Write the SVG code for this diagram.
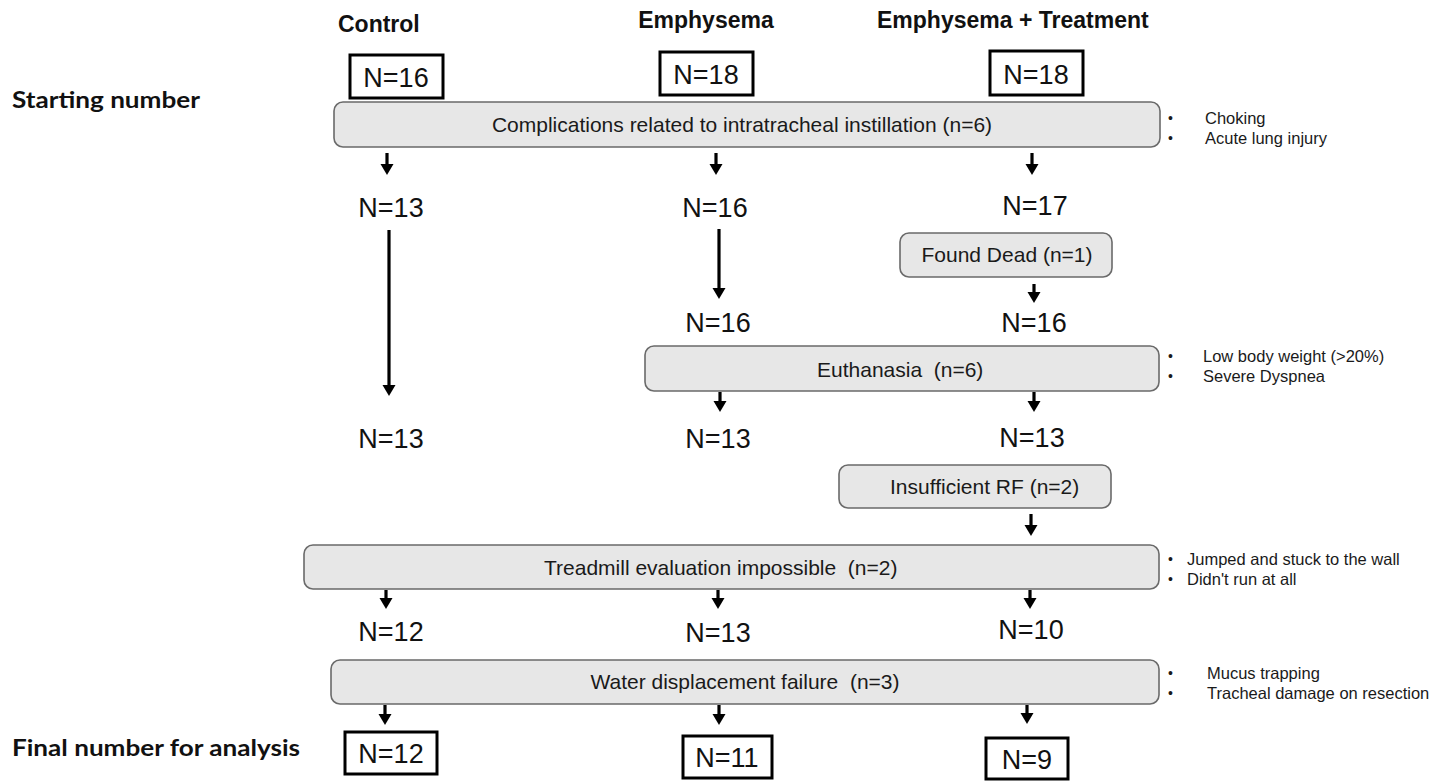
<svg xmlns="http://www.w3.org/2000/svg" width="1440" height="783" viewBox="0 0 1440 783">
<style>
.hdr{font-family:"Liberation Sans",Arial,sans-serif;font-weight:bold;font-size:23px;fill:#111}
.side{font-family:Lato,"Open Sans",sans-serif;font-weight:bold;font-size:23px;fill:#111}
.n{font-family:"Liberation Sans",Arial,sans-serif;font-size:27px;fill:#111;text-anchor:middle}
.lbl{font-family:"Liberation Sans",Arial,sans-serif;font-size:21px;fill:#1a1a1a}
.note{font-family:"Liberation Sans",Arial,sans-serif;font-size:16.5px;fill:#1a1a1a}
.blt{font-family:"Liberation Sans",Arial,sans-serif;font-size:14px;fill:#1a1a1a}
.nbox{fill:#fff;stroke:#000;stroke-width:3}
.gbox{fill:#e7e7e7;stroke:#6a6a6a;stroke-width:1.6}
.arr{stroke:#000;stroke-width:3.2;fill:none;marker-end:url(#ah)}
</style>
<defs>
<marker id="ah" markerWidth="12" markerHeight="14" refX="1" refY="6.5" orient="auto" markerUnits="userSpaceOnUse">
<path d="M0,0 L11,6.5 L0,13 z" fill="#000"/>
</marker>
</defs>
<rect width="1440" height="783" fill="#fff"/>

<g id="headers">
<text class="hdr" x="338" y="32">Control</text>
<text class="hdr" x="706" y="28" text-anchor="middle">Emphysema</text>
<text class="hdr" x="877" y="28">Emphysema + Treatment</text>
</g>

<g id="side-labels">
<text class="side" x="12" y="108" textLength="188" lengthAdjust="spacingAndGlyphs">Starting number</text>
<text class="side" x="12" y="756" textLength="288" lengthAdjust="spacingAndGlyphs">Final number for analysis</text>
</g>

<g id="start-control"><rect class="nbox" x="350" y="55" width="93" height="43"/><text class="n" x="396" y="87">N=16</text></g>
<g id="start-emph"><rect class="nbox" x="660" y="52" width="93" height="43"/><text class="n" x="706" y="84">N=18</text></g>
<g id="start-treat"><rect class="nbox" x="990" y="51" width="93" height="44"/><text class="n" x="1036" y="84">N=18</text></g>

<g id="complications">
<rect class="gbox" x="334" y="102" width="826" height="45" rx="9"/>
<text class="lbl" x="742" y="132" text-anchor="middle">Complications related to intratracheal instillation (n=6)</text>
<text class="blt" x="1168" y="123">•</text><text class="note" x="1205" y="124">Choking</text>
<text class="blt" x="1168" y="143">•</text><text class="note" x="1205" y="144">Acute lung injury</text>
</g>

<g id="n-row1">
<text class="n" x="391" y="217">N=13</text>
<text class="n" x="715" y="217">N=16</text>
<text class="n" x="1035" y="215">N=17</text>
</g>

<g id="found-dead">
<rect class="gbox" x="900" y="233" width="212" height="44" rx="9"/>
<text class="lbl" x="1007" y="262" text-anchor="middle">Found Dead (n=1)</text>
</g>

<g id="n-row2">
<text class="n" x="718" y="332">N=16</text>
<text class="n" x="1034" y="332">N=16</text>
</g>

<g id="euthanasia">
<rect class="gbox" x="645" y="346" width="514" height="45" rx="9"/>
<text class="lbl" x="817" y="377" xml:space="preserve">Euthanasia  (n=6)</text>
<text class="blt" x="1168" y="361">•</text><text class="note" x="1203" y="362">Low body weight (&gt;20%)</text>
<text class="blt" x="1168" y="381">•</text><text class="note" x="1203" y="382">Severe Dyspnea</text>
</g>

<g id="n-row3">
<text class="n" x="391" y="448">N=13</text>
<text class="n" x="718" y="448">N=13</text>
<text class="n" x="1032" y="447">N=13</text>
</g>

<g id="insufficient-rf">
<rect class="gbox" x="839" y="465" width="272" height="43" rx="9"/>
<text class="lbl" x="890" y="494">Insufficient RF (n=2)</text>
</g>

<g id="treadmill">
<rect class="gbox" x="304" y="545" width="855" height="44" rx="9"/>
<text class="lbl" x="544" y="575" xml:space="preserve">Treadmill evaluation impossible  (n=2)</text>
<text class="blt" x="1168" y="564">•</text><text class="note" x="1187" y="565">Jumped and stuck to the wall</text>
<text class="blt" x="1168" y="584">•</text><text class="note" x="1187" y="585">Didn't run at all</text>
</g>

<g id="n-row4">
<text class="n" x="391" y="641">N=12</text>
<text class="n" x="718" y="642">N=13</text>
<text class="n" x="1031" y="639">N=10</text>
</g>

<g id="water">
<rect class="gbox" x="331" y="660" width="828" height="44" rx="9"/>
<text class="lbl" x="745" y="689" text-anchor="middle" xml:space="preserve">Water displacement failure  (n=3)</text>
<text class="blt" x="1168" y="678">•</text><text class="note" x="1207" y="679">Mucus trapping</text>
<text class="blt" x="1168" y="698">•</text><text class="note" x="1207" y="699">Tracheal damage on resection</text>
</g>

<g id="final-control"><rect class="nbox" x="345" y="732" width="92" height="42"/><text class="n" x="391" y="763">N=12</text></g>
<g id="final-emph"><rect class="nbox" x="683" y="736" width="89" height="42"/><text class="n" x="727" y="767">N=11</text></g>
<g id="final-treat"><rect class="nbox" x="986" y="738" width="82" height="41"/><text class="n" x="1027" y="769">N=9</text></g>

<g id="connectors">
<line class="arr" x1="387" y1="153" x2="387" y2="165"/>
<line class="arr" x1="716" y1="153" x2="716" y2="165"/>
<line class="arr" x1="1032" y1="153" x2="1032" y2="165"/>
<line class="arr" x1="389" y1="230" x2="389" y2="386"/>
<line class="arr" x1="719" y1="229" x2="719" y2="289"/>
<line class="arr" x1="1034" y1="284" x2="1034" y2="293"/>
<line class="arr" x1="720" y1="392" x2="720" y2="402"/>
<line class="arr" x1="1034" y1="392" x2="1034" y2="402"/>
<line class="arr" x1="1031" y1="514" x2="1031" y2="526"/>
<line class="arr" x1="386" y1="590" x2="386" y2="599"/>
<line class="arr" x1="718" y1="590" x2="718" y2="599"/>
<line class="arr" x1="1030" y1="590" x2="1030" y2="599"/>
<line class="arr" x1="385" y1="705" x2="385" y2="715"/>
<line class="arr" x1="719" y1="705" x2="719" y2="715"/>
<line class="arr" x1="1027" y1="705" x2="1027" y2="714"/>
</g>
</svg>
